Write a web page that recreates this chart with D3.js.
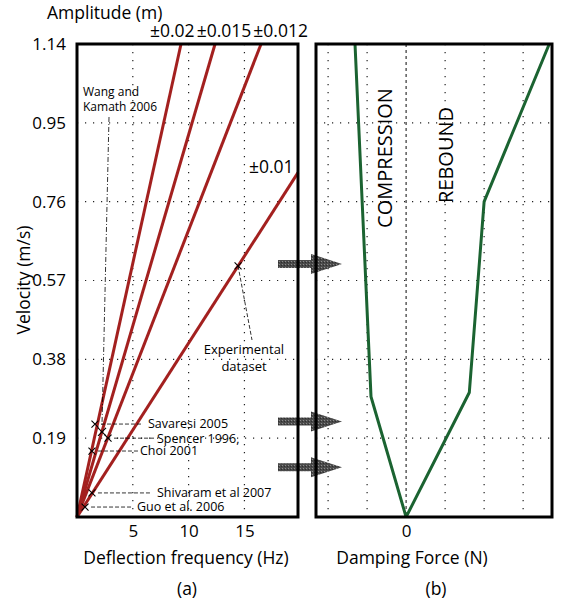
<!DOCTYPE html>
<html>
<head>
<meta charset="utf-8">
<script src="https://cdn.jsdelivr.net/npm/d3@7"></script>
<style>
  body { margin: 0; background: #fff; }
  svg { font-family: "Open Sans", sans-serif; }
</style>
</head>
<body>
<div id="chart"></div>
<script>
"use strict";
// velocity ticks (m/s), shared by both panels
var velTicks = [0.19, 0.38, 0.57, 0.76, 0.95, 1.14];
var freqTicks = [5, 10, 15];
var forceGrid = [-2, -1, 0, 1, 2, 3];

// amplitude rays from the origin: where each one ends
var ampLabels = ["±0.02", "±0.015", "±0.012", "±0.01"];
var ampEndFreq = [9.32, 12.37, 16.49, 19.8];
var ampEndVel = [1.14, 1.14, 1.14, 0.83];

// literature operating points
var refNames = ["Savaresi 2005", "Spencer 1996,", "Choi 2001", "Shivaram et al 2007", "Guo et al. 2006"];
var refFreq = [1.61, 2.78, 1.34, 1.34, 0.72];
var refVel = [0.224, 0.19, 0.159, 0.058, 0.024];
var wangFreq = 2.24, wangVel = 0.205;
var expFreq = 14.43, expVel = 0.605;

// damper force-velocity curve
var compForce = [-1.31, -0.9, 0];
var compVel = [1.14, 0.29, 0];
var rebForce = [0, 1.62, 2.0, 3.67];
var rebVel = [0, 0.30, 0.76, 1.14];

// arrows linking the two panels
var arrowVel = [0.61, 0.23, 0.12];

var w = 563, h = 606;
var yTop = 44, yBot = 517;
var red = "#a3201f", green = "#1b6331";

var svg = d3.select("#chart").append("svg")
  .attr("width", w).attr("height", h);

var yV = d3.scaleLinear().domain([0, 1.14]).range([yBot, yTop]);
var xL = d3.scaleLinear().domain([0, 19.8]).range([77, 298]);
var xF = d3.scaleLinear().domain([-2.31, 3.74]).range([316, 552]);

// dotted grid
function dotted(sel) {
  sel.attr("stroke", "#222").attr("stroke-width", 1.2).attr("stroke-dasharray", "1.2,6.8");
}
var grid = svg.append("g");
[[xL, freqTicks], [xF, forceGrid.filter(function(d) { return d !== 0; })]].forEach(function(p) {
  grid.append("g").selectAll("line").data(p[1]).enter().append("line")
    .attr("x1", function(d) { return p[0](d); }).attr("x2", function(d) { return p[0](d); })
    .attr("y1", yTop).attr("y2", yBot).call(dotted);
});
[xL, xF].forEach(function(sc) {
  grid.append("g").selectAll("line").data(velTicks.slice(0, -1)).enter().append("line")
    .attr("x1", sc.range()[0]).attr("x2", sc.range()[1])
    .attr("y1", function(d) { return yV(d); }).attr("y2", function(d) { return yV(d); })
    .call(dotted);
});
// zero-force line
svg.append("line")
  .attr("x1", xF(0)).attr("x2", xF(0)).attr("y1", yTop).attr("y2", yBot)
  .attr("stroke", "#333").attr("stroke-width", 1.2).attr("stroke-dasharray", "3,3");

// amplitude rays
svg.append("g").selectAll("line").data(ampLabels).enter().append("line")
  .attr("x1", xL(0)).attr("y1", yV(0))
  .attr("x2", function(d, i) { return xL(ampEndFreq[i]); })
  .attr("y2", function(d, i) { return yV(ampEndVel[i]); })
  .attr("stroke", red).attr("stroke-width", 3);

// top amplitude labels laid out in a row
var rowX = 150;
ampLabels.slice(0, 3).forEach(function(t) {
  var tx = svg.append("text").attr("x", rowX).attr("y", 37)
    .attr("font-size", 17.5).text(t);
  rowX += tx.node().getComputedTextLength() + 2;
});
svg.append("text").attr("x", 249).attr("y", 173).attr("font-size", 17.5).text(ampLabels[3]);

// markers
function cross(g, x, y, s) {
  g.append("path")
    .attr("d", "M" + (x - s) + "," + (y - s) + "L" + (x + s) + "," + (y + s) +
      "M" + (x - s) + "," + (y + s) + "L" + (x + s) + "," + (y - s))
    .attr("stroke", "#000").attr("stroke-width", 1.1);
}
var ann = svg.append("g").attr("font-size", 12.5);
var refTextX = [148, 157, 140, 157, 137];
var refLeadEnd = [143, 155, 138, 150, 133];
refNames.forEach(function(n, i) {
  var x = xL(refFreq[i]), y = yV(refVel[i]);
  cross(ann, x, y, 3.5);
  ann.append("line").attr("x1", x + 6).attr("x2", refLeadEnd[i])
    .attr("y1", y).attr("y2", y)
    .attr("stroke", "#000").attr("stroke-width", 0.8).attr("stroke-dasharray", "4,2");
  ann.append("text").attr("x", refTextX[i]).attr("y", y).attr("dy", "0.35em").text(n);
});

// Wang and Kamath
var wx = xL(wangFreq), wy = yV(wangVel);
cross(ann, wx, wy, 4);
ann.append("line").attr("x1", 109).attr("y1", 117).attr("x2", wx).attr("y2", wy - 7)
  .attr("stroke", "#000").attr("stroke-width", 0.8).attr("stroke-dasharray", "5,2,1,2");
ann.append("text").attr("x", 83).attr("y", 96).attr("font-size", 12).text("Wang and");
ann.append("text").attr("x", 83).attr("y", 111).attr("font-size", 12).text("Kamath 2006");

// experimental point
var ex = xL(expFreq), ey = yV(expVel);
cross(ann, ex, ey, 3.5);
ann.append("line").attr("x1", ex).attr("y1", ey).attr("x2", 252).attr("y2", 340)
  .attr("stroke", "#000").attr("stroke-width", 0.8).attr("stroke-dasharray", "4,2");
ann.append("text").attr("x", 244).attr("y", 354).attr("text-anchor", "middle").attr("font-size", 13).text("Experimental");
ann.append("text").attr("x", 244).attr("y", 371).attr("text-anchor", "middle").attr("font-size", 13).text("dataset");

// damper curve
var line = d3.line()
  .x(function(d) { return xF(d[0]); })
  .y(function(d) { return yV(d[1]); });
svg.append("path").datum(d3.zip(compForce, compVel)).attr("d", line)
  .attr("fill", "none").attr("stroke", green).attr("stroke-width", 3);
svg.append("path").datum(d3.zip(rebForce, rebVel)).attr("d", line)
  .attr("fill", "none").attr("stroke", green).attr("stroke-width", 3);

svg.append("text").attr("transform", "translate(385,158) rotate(-90)")
  .attr("text-anchor", "middle").attr("dy", "0.35em").attr("font-size", 20).text("COMPRESSION");
svg.append("text").attr("transform", "translate(446,155) rotate(-90)")
  .attr("text-anchor", "middle").attr("dy", "0.35em").attr("font-size", 20).text("REBOUND");

// textured arrows
var pat = svg.append("defs").append("pattern").attr("id", "tex")
  .attr("width", 3).attr("height", 3).attr("patternUnits", "userSpaceOnUse");
pat.append("rect").attr("width", 3).attr("height", 3).attr("fill", "#4a4a4a");
pat.append("rect").attr("width", 1).attr("height", 1).attr("fill", "#8a8a8a");
pat.append("rect").attr("x", 2).attr("y", 1).attr("width", 1).attr("height", 1).attr("fill", "#2e2e2e");
svg.append("g").selectAll("path").data(arrowVel).enter().append("path")
  .attr("d", function(d) {
    var y = yV(d);
    return "M278," + (y - 4) + "L311," + (y - 4) + "L311," + (y - 10) + "L342," + y +
      "L311," + (y + 10) + "L311," + (y + 4) + "L278," + (y + 4) + "Z";
  })
  .attr("fill", "url(#tex)");

// panel frames
[xL, xF].forEach(function(sc) {
  svg.append("rect").attr("x", sc.range()[0]).attr("y", yTop)
    .attr("width", sc.range()[1] - sc.range()[0]).attr("height", yBot - yTop)
    .attr("fill", "none").attr("stroke", "#000").attr("stroke-width", 3);
});

// axes
function plain(g) {
  g.select(".domain").remove();
  g.selectAll("text").attr("font-size", 17).attr("font-family", "Open Sans").attr("fill", "#000");
}
var yAxis = d3.axisLeft(yV).tickValues(velTicks).tickSize(0).tickPadding(5)
  .tickFormat(d3.format(".2f"));
svg.append("g").attr("transform", "translate(71,0)").call(yAxis).call(plain);

var xAxisL = d3.axisBottom(xL).tickValues(freqTicks).tickSize(0).tickPadding(0)
  .tickFormat(d3.format("d"));
svg.append("g").attr("transform", "translate(0,525)").call(xAxisL).call(plain);

var xAxisR = d3.axisBottom(xF).tickValues([0]).tickSize(0).tickPadding(0)
  .tickFormat(d3.format("d"));
svg.append("g").attr("transform", "translate(0,525)").call(xAxisR).call(plain);

// titles
var titles = svg.append("g").attr("font-size", 17.5);
titles.append("text").attr("x", 47).attr("y", 19).text("Amplitude (m)");
titles.append("text").attr("transform", "translate(24,280) rotate(-90)")
  .attr("text-anchor", "middle").attr("dy", "0.35em").text("Velocity (m/s)");
titles.append("text").attr("x", 186).attr("y", 564).attr("text-anchor", "middle").text("Deflection frequency (Hz)");
titles.append("text").attr("x", 412).attr("y", 564).attr("text-anchor", "middle").text("Damping Force (N)");
titles.append("text").attr("x", 187).attr("y", 595).attr("text-anchor", "middle").text("(a)");
titles.append("text").attr("x", 436).attr("y", 595).attr("text-anchor", "middle").text("(b)");
</script>
</body>
</html>
